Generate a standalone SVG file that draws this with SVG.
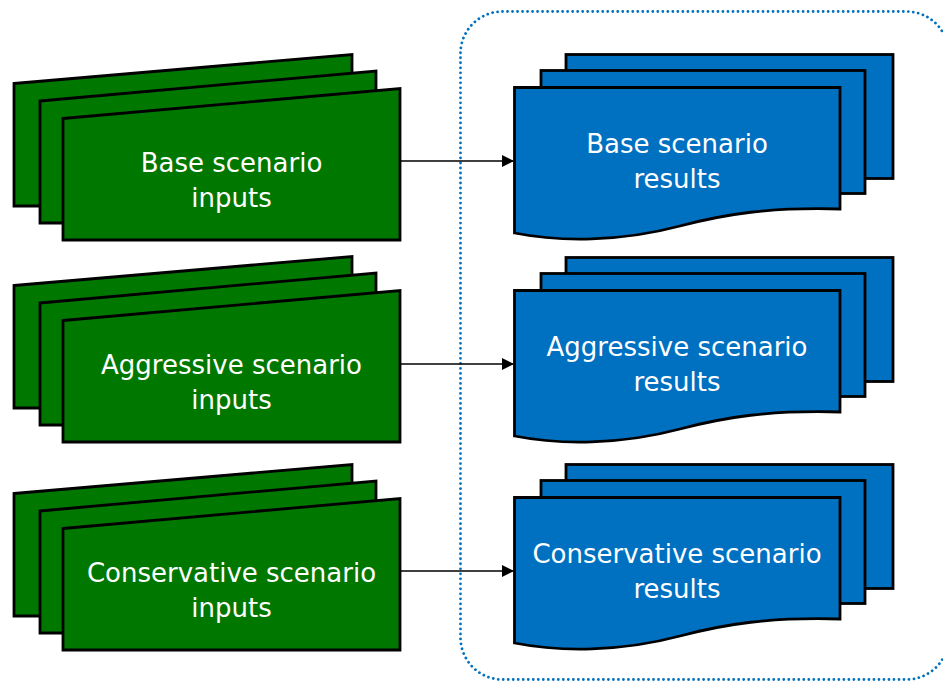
<svg xmlns="http://www.w3.org/2000/svg" xmlns:xlink="http://www.w3.org/1999/xlink" width="943" height="682" viewBox="0 0 943 682">
<style>
.g{fill:#007800;stroke:#000;stroke-width:2.8;stroke-linejoin:miter}
.b{fill:#0070C0;stroke:#000;stroke-width:2.8;stroke-linejoin:miter}
.t{font-family:"DejaVu Sans",sans-serif;font-size:26px;fill:#fff;text-anchor:middle}
.c{stroke:#000;stroke-width:1.5;fill:none}
</style>
<defs>
<marker id="ah" markerWidth="12" markerHeight="12" refX="11" refY="6" orient="auto" markerUnits="userSpaceOnUse">
<path d="M0,0 L12,6 L0,12 Z" fill="#000"/>
</marker>
<g id="gstack">
<polygon class="g" points="14,83.5 352,54.5 352,206 14,206"/>
<polygon class="g" points="40,101 376,71 376,223 40,223"/>
<polygon class="g" points="63,118.5 400,88.5 400,240 63,240"/>
</g>
<g id="bstack">
<rect class="b" x="566" y="54.5" width="327" height="124"/>
<rect class="b" x="541" y="70.5" width="324" height="123"/>
<path class="b" d="M514.5,87.5 L840,87.5 L840,209 C770,207 725,214 680,226 C620,242 560,242 514.5,233 Z"/>
</g>
</defs>
<rect x="460.5" y="11.5" width="488" height="668" rx="42" ry="42" fill="none" stroke="#0070C0" stroke-width="2.8" stroke-linecap="round" stroke-dasharray="0.01 5"/>
<g id="base-inputs">
<use xlink:href="#gstack"/>
<text class="t" x="231.5" y="171.5">Base scenario</text>
<text class="t" x="231.5" y="206.5">inputs</text>
</g>
<g id="aggressive-inputs" transform="translate(0,202)">
<use xlink:href="#gstack"/>
<text class="t" x="231.5" y="171.5">Aggressive scenario</text>
<text class="t" x="231.5" y="206.5">inputs</text>
</g>
<g id="conservative-inputs" transform="translate(0,410)">
<use xlink:href="#gstack"/>
<text class="t" x="231.5" y="171.5">Conservative scenario</text>
<text class="t" x="231.5" y="206.5">inputs</text>
</g>
<g id="base-results">
<use xlink:href="#bstack"/>
<text class="t" x="677" y="153">Base scenario</text>
<text class="t" x="677" y="188">results</text>
</g>
<g id="aggressive-results" transform="translate(0,203)">
<use xlink:href="#bstack"/>
<text class="t" x="677" y="153">Aggressive scenario</text>
<text class="t" x="677" y="188">results</text>
</g>
<g id="conservative-results" transform="translate(0,410)">
<use xlink:href="#bstack"/>
<text class="t" x="677" y="153">Conservative scenario</text>
<text class="t" x="677" y="188">results</text>
</g>
<g id="connectors">
<line class="c" x1="401" y1="161" x2="513" y2="161" marker-end="url(#ah)"/>
<line class="c" x1="401" y1="364" x2="513" y2="364" marker-end="url(#ah)"/>
<line class="c" x1="401" y1="571" x2="513" y2="571" marker-end="url(#ah)"/>
</g>
</svg>
